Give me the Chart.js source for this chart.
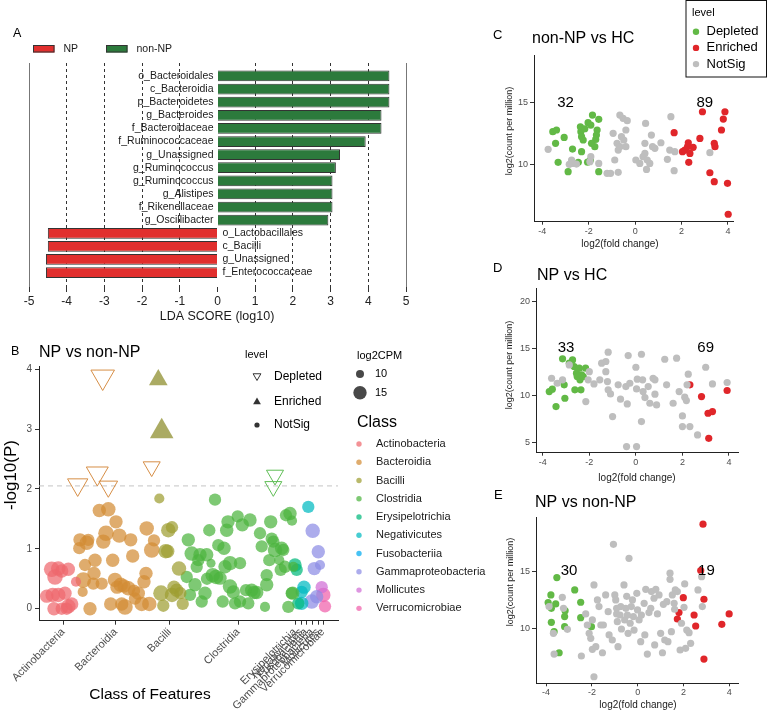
<!DOCTYPE html>
<html>
<head>
<meta charset="utf-8">
<script src="https://cdn.jsdelivr.net/npm/chart.js@4.4.1/dist/chart.umd.min.js"></script>
<style>
  body { margin: 0; background: #fff; }
  #wrap { position: relative; width: 767px; height: 710px; overflow: hidden; background: #fff; }
  canvas { position: absolute; }
</style>
</head>
<body>
<div id="wrap">
  <canvas id="chartA" width="420" height="330" style="left:0;top:0"></canvas>
  <canvas id="chartB" width="495" height="380" style="left:0;top:330px"></canvas>
  <canvas id="chartC" width="287" height="250" style="left:480px;top:0"></canvas>
  <canvas id="chartD" width="287" height="235" style="left:480px;top:250px"></canvas>
  <canvas id="chartE" width="287" height="225" style="left:480px;top:485px"></canvas>
</div>
<script>
// ---- panel A: LEfSe LDA scores
const lefseNonNP = ['o_Bacteroidales', 'c_Bacteroidia', 'p_Bacteroidetes', 'g_Bacteroides', 'f_Bacteroidaceae',
  'f_Ruminococcaceae', 'g_Unassigned', 'g_Ruminococcus', 'g_Ruminococcus', 'g_Alistipes', 'f_Rikenellaceae', 'g_Oscillibacter'];
const ldaNonNP = [4.56, 4.56, 4.56, 4.35, 4.35, 3.93, 3.25, 3.14, 3.05, 3.05, 3.05, 2.94];
const lefseNP = ['o_Lactobacillales', 'c_Bacilli', 'g_Unassigned', 'f_Enterococcaceae'];
const ldaNP = [-4.5, -4.5, -4.55, -4.55];
const ldaTicks = [-5, -4, -3, -2, -1, 0, 1, 2, 3, 4, 5];

// ---- panel B: [position, -log10(P), log2CPM]
const bClasses = ['Actinobacteria', 'Bacteroidia', 'Bacilli', 'Clostridia', 'Erysipelotrichia', 'Negativicutes',
  'Fusobacteriia', 'Gammaproteobacteria', 'Mollicutes', 'Verrucomicrobiae'];
const bClassPos = [24.3, 76.7, 130.7, 199.3, 256, 262, 267, 273, 279, 284];
const bColors = ['rgba(238,104,110,0.72)', 'rgba(210,140,52,0.72)', 'rgba(158,158,50,0.72)', 'rgba(76,180,62,0.72)',
  'rgba(0,184,124,0.72)', 'rgba(0,186,192,0.72)', 'rgba(0,170,240,0.72)', 'rgba(140,140,228,0.72)',
  'rgba(208,110,214,0.72)', 'rgba(240,96,170,0.72)'];
const actinobacteria = [[12.7,0.66,17],[19.3,0.67,16],[16,0.53,17],[22.7,0.63,15],[29.3,0.66,15],[37,0.45,12],
  [13.7,0.23,16],[7.7,0.21,15],[19.3,0.23,16],[26,0.26,15],[15,0.0,15],[22.7,0.0,14],[29.3,0.04,16],[32.7,0.08,15],[27.7,0.0,14]];
const bacteroidia = [[41,1.15,15],[40.3,1.01,14],[47.7,1.10,16],[49.3,1.15,14],[46,0.73,14],[44.3,0.48,17],[43.7,0.28,12],
  [51,0.0,15],[55,0.59,15],[56,0.81,15],[54.3,0.42,14],[60.3,1.64,15],[69.3,1.66,16],[67,1.26,17],[64.3,1.12,16],[62.7,0.42,14],
  [71.7,0.08,15],[73.7,0.81,15],[76,0.48,16],[77,1.45,15],[80.3,1.22,16],[81.7,0.40,16],[82.7,0.08,15],[86,0.03,17],[91.7,1.15,15],
  [89.3,0.34,16],[93.7,0.88,15],[96,0.17,14],[99.3,0.26,15],[102.7,0.08,16],[105,0.45,15],[107,0.59,15],[107.7,1.34,16],
  [112.7,0.98,17],[115,1.14,14],[110.3,0.08,16],[78,0.36,15],[85,0.38,15],[95,0.30,14]];
const bacilli = [[120.3,1.84,12],[122,0.26,17],[124.3,0.05,14],[129.3,1.31,16],[133,1.36,14],[126.7,0.96,16],[128.7,0.96,15],
  [140,0.67,16],[137.7,0.31,15],[133,0.23,16],[141.3,0.26,14],[143.7,0.08,14],[135,0.36,15]];
const clostridia = [[149.3,1.15,15],[147.7,0.53,14],[151,0.23,14],[152.7,0.92,16],[156,0.40,15],[157.7,0.70,14],[159.3,0.81,14],
  [161,0.90,15],[162.7,0.12,14],[166,0.26,15],[167.7,0.90,15],[170.3,1.31,14],[172,0.76,11],[173.7,0.56,16],[176,1.82,14],
  [177,0.53,16],[179.3,1.06,14],[181,0.51,15],[183.7,0.12,14],[185,1.01,15],[187.7,1.31,15],[189,1.45,15],[191,0.76,16],
  [191,0.37,16],[194.3,0.28,15],[196,0.09,14],[198.7,1.54,14],[201,0.76,14],[201,0.12,14],[203.3,1.40,15],[207,0.31,14],
  [209.3,0.09,14],[211,1.48,15],[212.7,0.31,15],[215,0.27,15],[217.7,0.27,15],[221,1.26,14],[222.7,1.04,14],[226,0.03,12],
  [227.7,0.40,15],[227.7,0.56,14],[230.3,0.81,14],[231.7,1.45,15],[232.7,1.17,14],[234.3,1.12,14],[236,0.98,16],[240.3,0.81,12],
  [241.7,0.65,14],[244.3,0.98,14],[247,1.56,14],[249.3,0.03,14],[251,1.59,15],[253,1.47,12],[253.7,0.26,15],[242.7,1.01,15],
  [246,0.70,14],[254.3,0.70,12],[252.7,0.26,14],[168,0.50,14],[186,0.70,15]];
const erysipelotrichia = [[256,0.73,15],[257.7,0.65,14],[259.3,0.09,14]];
const negativicutes = [[269.3,1.70,14],[262.7,0.28,14],[265,0.36,15],[262.7,0.09,15]];
const fusobacteriia = [];
const gammaproteobacteria = [[273.7,1.30,16],[279.3,0.95,15],[275.3,0.67,15],[281,0.73,12],[272.7,0.12,16],[277.7,0.20,15]];
const mollicutes = [[282.7,0.36,14]];
const verrucomicrobiae = [[284.3,0.23,16],[286,0.04,14]];
const bacteroidiaDepleted = [[63.7,3.87,17],[38.7,2.07,15],[58.3,2.26,16],[69.3,2.04,14],[112.7,2.37,13]];
const clostridiaDepleted = [[236,2.23,13],[234.3,2.04,13]];
const bacilliEnriched = [[119.3,3.82,14],[122.7,2.96,17]];
const bThreshold = 2.05;

// ---- panels C, D, E: [log2 fold change, log2 CPM]
const cDepleted = [[-3.55,12.66],[-3.39,12.8],[-3.43,11.72],[-3.32,10.19],[-3.06,12.2],[-2.70,11.26],[-2.89,9.44],[-2.45,10.19],
  [-2.36,13.06],[-2.34,12.66],[-2.31,12.26],[-2.24,11.99],[-2.31,11.05],[-2.03,13.39],[-1.84,14.0],[-1.91,13.2],[-1.57,13.66],
  [-1.64,12.8],[-1.67,12.39],[-1.70,12.04],[-1.88,11.72],[-1.93,10.38],[-1.57,9.44],[-1.74,11.45],[-2.17,12.9],[-2.05,10.2]];
const cEnriched = [[1.68,12.58],[2.04,11.05],[2.14,11.18],[2.26,11.45],[2.29,11.77],[2.36,10.91],[2.50,11.4],[2.31,10.19],
  [2.79,12.12],[2.90,14.27],[3.22,9.35],[3.41,11.72],[3.44,11.45],[3.41,8.63],[3.72,12.8],[3.80,13.68],[3.87,14.27],[3.98,8.5],[4.01,6.0]];
const cNotSig = [[-3.75,11.24],[-2.74,10.38],[-2.67,10.1],[-2.84,10.03],[-2.53,10.05],[-1.91,10.65],[-1.95,10.24],[-1.57,10.1],
  [-1.21,9.3],[-1.06,9.3],[-0.73,9.38],[-0.95,12.53],[-0.78,11.72],[-0.73,11.18],[-0.88,10.38],[-0.66,14.0],[-0.52,13.74],
  [-0.34,13.55],[-0.59,12.26],[-0.49,11.99],[-0.40,12.8],[-0.66,11.45],[-0.40,11.45],[0.03,10.38],[0.20,10.1],[0.34,10.65],
  [0.42,10.91],[0.45,13.33],[0.42,11.72],[0.52,10.38],[0.49,9.62],[0.63,10.1],[0.75,11.45],[0.70,12.39],[0.85,11.32],
  [1.11,11.77],[1.39,10.43],[1.49,11.18],[1.54,13.87],[1.71,11.05],[1.68,9.52],[3.22,10.97]];
const dDepleted = [[-3.72,10.39],[-3.59,10.64],[-3.43,8.8],[-3.15,13.86],[-3.08,11.1],[-3.05,9.68],[-2.86,13.4],[-2.72,13.75],
  [-2.65,13.05],[-2.62,10.57],[-2.55,12.34],[-2.52,11.98],[-2.43,12.87],[-2.40,11.63],[-2.36,10.57],[-2.33,12.16],[-2.26,11.98],[-2.16,12.87]];
const dEnriched = [[2.32,11.1],[2.82,9.86],[3.1,8.09],[3.29,8.26],[3.13,5.43],[3.92,10.5]];
const dNotSig = [[-3.62,11.8],[-3.38,11.27],[-3.15,11.63],[-2.86,13.22],[-2.0,12.5],[-2.05,11.63],[-1.8,11.2],[-2.15,9.33],
  [-1.55,11.63],[-1.47,13.4],[-1.29,13.58],[-1.19,14.57],[-1.29,12.5],[-1.22,11.45],[-1.19,10.57],[-1.09,10.14],[-1.0,7.73],
  [-0.76,11.1],[-0.66,9.58],[-0.43,10.92],[-0.37,9.08],[-0.33,14.21],[-0.40,4.55],[-0.26,11.27],[0.03,4.55],[0.0,12.97],
  [0.06,11.7],[0.03,10.67],[0.24,14.35],[0.29,11.63],[0.24,7.2],[0.31,10.39],[0.39,9.75],[0.53,10.92],[0.60,9.15],[0.74,11.8],
  [0.82,11.63],[0.82,10.11],[0.89,8.97],[1.24,13.82],[1.32,11.1],[1.6,9.15],[1.75,13.93],[1.86,10.39],[2.0,7.8],[2.0,6.67],
  [2.1,9.79],[2.17,9.43],[2.25,12.23],[2.2,11.1],[2.32,6.67],[2.65,5.79],[3.0,12.97],[3.29,11.2],[3.92,11.35]];
const eDepleted = [[-3.91,12.27],[-3.79,12.94],[-3.77,11.77],[-3.77,10.55],[-3.65,9.74],[-3.58,12.15],[-3.53,14.45],[-3.43,7.9],
  [-3.19,11.05],[-3.19,10.17],[-3.17,11.57],[-2.75,13.37],[-2.49,12.3],[-2.49,10.96],[-2.02,10.17]];
const eEnriched = [[2.85,19.1],[2.75,15.06],[1.99,12.7],[1.8,11.4],[1.73,10.84],[2.46,11.19],[2.53,10.23],[2.89,12.56],
  [2.89,7.35],[3.67,10.38],[3.99,11.28]];
const eNotSig = [[-3.87,11.92],[-3.68,9.59],[-3.65,7.79],[-3.29,12.73],[-3.24,11.77],[-3.07,9.94],[-2.46,7.62],[-2.27,11.28],
  [-2.2,10.32],[-2.12,9.59],[-2.05,9.16],[-1.98,10.76],[-1.91,13.81],[-1.98,8.2],[-1.83,8.43],[-1.91,5.81],[-1.76,12.5],
  [-1.69,11.92],[-1.61,10.32],[-1.54,7.9],[-1.5,10.32],[-1.4,12.94],[-1.29,11.48],[-1.25,9.45],[-1.11,9.01],[-1.06,17.35],
  [-1.0,12.94],[-0.96,12.5],[-0.92,11.77],[-0.92,11.28],[-0.89,10.61],[-0.86,8.43],[-0.77,11.19],[-0.74,11.92],[-0.71,9.97],
  [-0.6,13.81],[-0.57,10.76],[-0.52,11.77],[-0.48,12.82],[-0.45,11.19],[-0.42,9.59],[-0.38,16.13],[-0.33,10.47],[-0.28,11.92],
  [-0.23,12.5],[-0.19,11.05],[-0.16,9.88],[-0.04,13.08],[-0.01,11.63],[0.06,10.76],[0.13,8.87],[0.16,11.19],[0.28,12.21],
  [0.31,9.45],[0.35,13.43],[0.42,7.79],[0.49,11.4],[0.57,11.77],[0.6,13.23],[0.71,12.65],[0.74,8.58],[0.79,13.43],[0.86,11.28],
  [0.93,12.94],[1.0,9.59],[1.08,7.9],[1.12,12.12],[1.18,9.01],[1.27,12.35],[1.32,8.87],[1.41,14.83],[1.41,14.3],[1.47,9.74],
  [1.51,12.94],[1.59,12.21],[1.61,11.69],[1.64,13.37],[1.73,13.23],[1.85,8.14],[1.91,10.47],[2.02,11.86],[2.05,13.9],[2.09,8.29],
  [2.14,9.88],[2.24,9.65],[2.31,8.72],[2.63,13.37],[2.79,14.53],[2.82,11.92]];
const fcTicks = [-4, -2, 0, 2, 4];
const countLabelX = [-3, 3];
const countLabelY = 15;

// ---- shared helpers
const FAMILY = '"Liberation Sans", Arial, sans-serif';
const F = size => size + 'px ' + FAMILY;
Chart.defaults.font.family = FAMILY;
const GREEN = '#62b946', RED = '#e0262a', GREY = '#bebebe';

function txt(ctx, s, x, y, font, opt) {
  opt = opt || {};
  ctx.save();
  ctx.font = font;
  ctx.fillStyle = opt.color || '#000';
  ctx.textAlign = opt.align || 'left';
  ctx.textBaseline = 'middle';
  ctx.translate(x, y);
  if (opt.rot) ctx.rotate(opt.rot);
  ctx.fillText(s, 0, 0);
  ctx.restore();
}
function tri(ctx, x, y, r, down, fill, stroke) {
  const s = down ? -1 : 1;
  ctx.beginPath();
  ctx.moveTo(x, y - s * r);
  ctx.lineTo(x + r * 0.866, y + s * r / 2);
  ctx.lineTo(x - r * 0.866, y + s * r / 2);
  ctx.closePath();
  if (fill) { ctx.fillStyle = fill; ctx.fill(); }
  if (stroke) { ctx.strokeStyle = stroke; ctx.lineWidth = 1; ctx.stroke(); }
}
const cpmRadius = c => 4 + (c - 10) * 0.54;
const sizeOf = k => c => (c.raw && c.raw.cpm ? cpmRadius(c.raw.cpm) * k : 4);
const fixedTicks = vals => s => { s.ticks = vals.map(v => ({ value: v })); };

// ---- A
new Chart(document.getElementById('chartA'), {
  type: 'bar',
  data: {
    datasets: [
      { label: 'NP', names: lefseNP, data: ldaNP.map((v, i) => ({ x: v, y: lefseNonNP.length + i })),
        backgroundColor: '#e12f2e', borderColor: '#333', borderWidth: 1, grouped: false, categoryPercentage: 1, barPercentage: 0.82 },
      { label: 'non-NP', names: lefseNonNP, data: ldaNonNP.map((v, i) => ({ x: v, y: i })),
        backgroundColor: '#2c7a3c', borderColor: '#333', borderWidth: 1, grouped: false, categoryPercentage: 1, barPercentage: 0.82 }
    ]
  },
  options: {
    indexAxis: 'y',
    responsive: false,
    animation: false,
    layout: { padding: { left: 29, right: 14, top: 63, bottom: 23 } },
    plugins: { legend: { display: false }, tooltip: { enabled: false } },
    scales: {
      y: { type: 'linear', reverse: true, offset: false, min: -0.99, max: 16.1, display: false },
      x: {
        type: 'linear', min: -5, max: 5, z: 1,
        afterBuildTicks: fixedTicks(ldaTicks),
        afterFit: s => { s.height = 20; },
        ticks: { font: { size: 12 }, color: '#222', padding: 2 },
        grid: {
          color: c => c.tick.value === 0 ? 'rgba(0,0,0,0)' : (Math.abs(c.tick.value) === 5 ? '#777' : '#333'),
          tickColor: '#333', tickLength: 5
        },
        border: { display: false, dash: c => Math.abs(c.tick.value) === 5 ? [] : [3, 3] }
      }
    }
  },
  plugins: [{
    id: 'aDecor',
    afterDatasetsDraw(chart) {
      const ctx = chart.ctx, x0 = chart.scales.x.getPixelForValue(0);
      chart.data.datasets.forEach((ds, di) => {
        chart.getDatasetMeta(di).data.forEach((bar, i) => {
          const neg = ds.data[i].x < 0;
          txt(ctx, ds.names[i], neg ? x0 + 5 : x0 - 4, bar.y, F(10.5), { align: neg ? 'left' : 'right', color: '#1a1a1a' });
        });
      });
    },
    afterDraw(chart) {
      const ctx = chart.ctx;
      txt(ctx, 'A', 13, 34, F(12.5));
      [[33, chart.data.datasets[0]], [106, chart.data.datasets[1]]].forEach(([x, ds]) => {
        ctx.fillStyle = ds.backgroundColor;
        ctx.fillRect(x, 45, 21.5, 7.5);
        ctx.strokeStyle = '#333';
        ctx.lineWidth = 1;
        ctx.strokeRect(x + 0.5, 45.5, 20.5, 6.5);
        txt(ctx, ds.label, x + 30.5, 49, F(10.5), { color: '#1a1a1a' });
      });
      txt(ctx, 'LDA SCORE (log10)', 217, 317, F(12.5), { align: 'center', color: '#1a1a1a' });
    }
  }]
});

// ---- B
const bNotSig = [actinobacteria, bacteroidia, bacilli, clostridia, erysipelotrichia, negativicutes,
  fusobacteriia, gammaproteobacteria, mollicutes, verrucomicrobiae];
const toPts = arr => arr.map(([x, y, c]) => ({ x: x, y: y, cpm: c }));
const bDatasets = bNotSig.map((arr, i) => ({
  label: bClasses[i], data: toPts(arr), backgroundColor: bColors[i], borderWidth: 0, pointRadius: sizeOf(1)
}));
bDatasets.push(
  { label: 'Bacteroidia Depleted', data: toPts(bacteroidiaDepleted), pointStyle: 'triangle', pointRotation: 180,
    backgroundColor: 'rgba(0,0,0,0)', borderColor: 'rgb(214,142,70)', borderWidth: 1, pointRadius: sizeOf(1.75) },
  { label: 'Clostridia Depleted', data: toPts(clostridiaDepleted), pointStyle: 'triangle', pointRotation: 180,
    backgroundColor: 'rgba(0,0,0,0)', borderColor: 'rgb(96,190,86)', borderWidth: 1, pointRadius: sizeOf(1.75) },
  { label: 'Bacilli Enriched', data: toPts(bacilliEnriched), pointStyle: 'triangle',
    backgroundColor: 'rgba(150,150,60,0.8)', borderWidth: 0, pointRadius: sizeOf(1.75) }
);

new Chart(document.getElementById('chartB'), {
  type: 'scatter',
  data: { datasets: bDatasets },
  options: {
    responsive: false,
    animation: false,
    layout: { padding: { left: 0, right: 157, top: 36.7, bottom: 0 } },
    plugins: { legend: { display: false }, tooltip: { enabled: false } },
    scales: {
      x: {
        type: 'linear', min: 0, max: 299,
        afterBuildTicks: fixedTicks(bClassPos),
        afterFit: s => { s.height = 89.3; },
        ticks: { autoSkip: false, minRotation: 45, maxRotation: 45, font: { size: 11 }, color: '#4d4d4d', padding: 1,
          callback: (v, i) => bClasses[i] },
        grid: { drawOnChartArea: false, tickLength: 4, color: '#333' },
        border: { color: '#222' }
      },
      y: {
        min: -0.2, max: 4.04,
        afterBuildTicks: fixedTicks([0, 1, 2, 3, 4]),
        afterFit: s => { s.width = 39; },
        ticks: { font: { size: 10 }, color: '#4d4d4d', padding: 3 },
        grid: { drawOnChartArea: false, tickLength: 4, color: '#333' },
        border: { color: '#222' }
      }
    }
  },
  plugins: [{
    id: 'bDecor',
    beforeDatasetsDraw(chart) {
      const ctx = chart.ctx, a = chart.chartArea, y = chart.scales.y.getPixelForValue(bThreshold);
      ctx.save();
      ctx.strokeStyle = '#c4c4c4';
      ctx.lineWidth = 1;
      ctx.setLineDash([5, 4]);
      ctx.beginPath();
      ctx.moveTo(a.left, y);
      ctx.lineTo(a.right, y);
      ctx.stroke();
      ctx.restore();
    },
    afterDraw(chart) {
      const ctx = chart.ctx;
      txt(ctx, 'B', 11, 22, F(12.5));
      txt(ctx, 'NP vs non-NP', 39, 23, F(16));
      txt(ctx, '-log10(P)', 11, 145, F(17), { align: 'center', rot: -Math.PI / 2 });
      txt(ctx, 'Class of Features', 150, 365, F(15.5), { align: 'center' });
      // level legend
      txt(ctx, 'level', 245, 25, F(11));
      tri(ctx, 257, 46, 4.5, true, null, '#333');
      tri(ctx, 257, 72, 4.5, false, '#333', null);
      ctx.fillStyle = '#333';
      ctx.beginPath(); ctx.arc(257, 95, 2.6, 0, Math.PI * 2); ctx.fill();
      txt(ctx, 'Depleted', 274, 47, F(12));
      txt(ctx, 'Enriched', 274, 71.7, F(12));
      txt(ctx, 'NotSig', 274, 95, F(12));
      // size legend
      txt(ctx, 'log2CPM', 357, 26, F(11));
      ctx.fillStyle = 'rgba(40,40,40,0.85)';
      ctx.beginPath(); ctx.arc(360, 44, cpmRadius(10), 0, Math.PI * 2); ctx.fill();
      ctx.beginPath(); ctx.arc(360, 62.7, cpmRadius(15), 0, Math.PI * 2); ctx.fill();
      txt(ctx, '10', 375, 44, F(11));
      txt(ctx, '15', 375, 62.7, F(11));
      // class legend
      txt(ctx, 'Class', 357, 93, F(16));
      bClasses.forEach((name, i) => {
        const y = 114 + i * 18.26;
        ctx.fillStyle = bColors[i];
        ctx.beginPath(); ctx.arc(359, y, 2.7, 0, Math.PI * 2); ctx.fill();
        txt(ctx, name, 376, y, F(11), { color: '#1a1a1a' });
      });
    }
  }]
});

// ---- C, D, E
function volcano(id, depleted, enriched, notSig, counts, cfg) {
  const toXY = arr => arr.map(([x, y]) => ({ x: x, y: y }));
  return new Chart(document.getElementById(id), {
    type: 'scatter',
    data: {
      datasets: [
        { label: 'NotSig', data: toXY(notSig), backgroundColor: GREY },
        { label: 'Depleted', data: toXY(depleted), backgroundColor: GREEN },
        { label: 'Enriched', data: toXY(enriched), backgroundColor: RED }
      ]
    },
    options: {
      responsive: false,
      animation: false,
      elements: { point: { radius: 3.6, borderWidth: 0 } },
      layout: { padding: cfg.pad },
      plugins: { legend: { display: false }, tooltip: { enabled: false } },
      scales: {
        x: {
          type: 'linear', min: cfg.x[0], max: cfg.x[1],
          afterBuildTicks: fixedTicks(fcTicks),
          afterFit: s => { s.height = 20; },
          ticks: { font: { size: 9 }, color: '#4d4d4d', padding: 1 },
          grid: { drawOnChartArea: false, tickLength: 3, color: '#333' },
          border: { color: '#222' }
        },
        y: {
          min: cfg.y[0], max: cfg.y[1],
          afterBuildTicks: fixedTicks(cfg.yTicks),
          afterFit: s => { s.width = cfg.yWidth; },
          ticks: { font: { size: 9 }, color: '#4d4d4d', padding: 2 },
          grid: { drawOnChartArea: false, tickLength: 4, color: '#333' },
          border: { color: '#222' }
        }
      }
    },
    plugins: [{
      id: id + 'Decor',
      afterDatasetsDraw(chart) {
        const sx = chart.scales.x, sy = chart.scales.y;
        counts.forEach((n, i) => {
          txt(chart.ctx, String(n), sx.getPixelForValue(countLabelX[i]), sy.getPixelForValue(countLabelY), F(15), { align: 'center' });
        });
      },
      afterDraw(chart) {
        const ctx = chart.ctx;
        txt(ctx, cfg.letter, cfg.letterAt[0], cfg.letterAt[1], F(13));
        txt(ctx, cfg.title, cfg.titleAt[0], cfg.titleAt[1], F(16));
        txt(ctx, 'log2(count per million)', cfg.yTitleAt[0], cfg.yTitleAt[1], F(9), { align: 'center', rot: -Math.PI / 2, color: '#1a1a1a' });
        txt(ctx, 'log2(fold change)', cfg.xTitleAt[0], cfg.xTitleAt[1], F(10), { align: 'center', color: '#1a1a1a' });
        if (cfg.legend) {
          ctx.strokeStyle = '#111';
          ctx.lineWidth = 1;
          ctx.strokeRect(206, 0.5, 80.5, 76.5);
          txt(ctx, 'level', 212, 13.3, F(11));
          [1, 2, 0].forEach((di, k) => {
            const y = 31.7 + k * 16.2;
            ctx.fillStyle = chart.data.datasets[di].backgroundColor;
            ctx.beginPath(); ctx.arc(216, y, 3.2, 0, Math.PI * 2); ctx.fill();
            txt(ctx, chart.data.datasets[di].label, 226.5, y, F(13));
          });
        }
      }
    }]
  });
}

volcano('chartC', cDepleted, cEnriched, cNotSig, [32, 89], {
  x: [-4.36, 4.23], y: [5.4, 18.85], yTicks: [10, 15], yWidth: 54,
  pad: { left: 0, right: 33.7, top: 55, bottom: 8.3 },
  letter: 'C', letterAt: [13, 35], title: 'non-NP vs HC', titleAt: [52, 39],
  yTitleAt: [30, 131], xTitleAt: [140, 244], legend: true
});
volcano('chartD', dDepleted, dEnriched, dNotSig, [33, 69], {
  x: [-4.29, 4.4], y: [3.9, 21.35], yTicks: [5, 10, 15, 20], yWidth: 56,
  pad: { left: 0, right: 28.7, top: 38.3, bottom: 12.3 },
  letter: 'D', letterAt: [13, 18], title: 'NP vs HC', titleAt: [57, 26],
  yTitleAt: [30, 115], xTitleAt: [157, 228]
});
volcano('chartE', eDepleted, eEnriched, eNotSig, [30, 19], {
  x: [-4.44, 4.39], y: [5.24, 19.7], yTicks: [10, 15], yWidth: 56,
  pad: { left: 0, right: 28.7, top: 32.3, bottom: 6.7 },
  letter: 'E', letterAt: [14, 10], title: 'NP vs non-NP', titleAt: [55, 18],
  yTitleAt: [31, 97], xTitleAt: [158, 220]
});
</script>
</body>
</html>
